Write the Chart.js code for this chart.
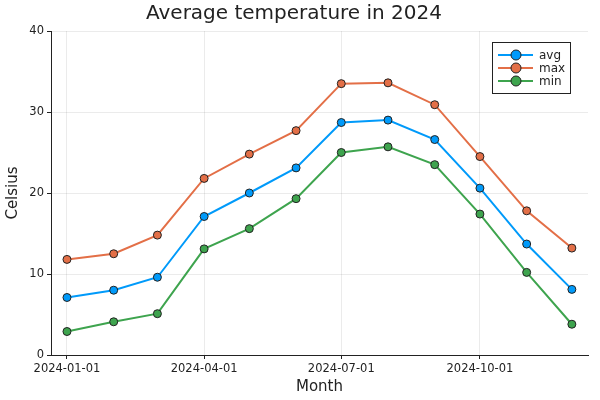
<!DOCTYPE html>
<html>
<head>
<meta charset="utf-8">
<script src="https://cdn.jsdelivr.net/npm/chart.js@4"></script>
<style>
  html, body { margin: 0; padding: 0; background: #fff; }
  #wrap { width: 600px; height: 400px; }
</style>
</head>
<body>
<div id="wrap"><canvas id="chart" width="600" height="400"></canvas></div>
<script>
// Days since 2024-01-01 for the first of each month
const monthDays = [0, 31, 60, 91, 121, 152, 182, 213, 244, 274, 305, 335];

const avgTemp = [7.1, 8.0, 9.6, 17.1, 20.0, 23.1, 28.7, 29.0, 26.6, 20.6, 13.7, 8.1];
const maxTemp = [11.8, 12.5, 14.8, 21.8, 24.8, 27.7, 33.5, 33.6, 30.9, 24.5, 17.8, 13.2];
const minTemp = [2.9, 4.1, 5.1, 13.1, 15.6, 19.3, 25.0, 25.7, 23.5, 17.4, 10.2, 3.8];

const xTickDays = [0, 91, 182, 274];
const xTickLabels = ['2024-01-01', '2024-04-01', '2024-07-01', '2024-10-01'];

const seriesNames = ['avg', 'max', 'min'];
const seriesColors = ['#009AFA', '#E36F47', '#3EA44E'];

const FONT = 'DejaVu Sans';

function toPoints(values) {
  return values.map((v, i) => ({ x: monthDays[i], y: v }));
}

const datasets = [avgTemp, maxTemp, minTemp].map((values, i) => ({
  label: seriesNames[i],
  data: toPoints(values),
  borderColor: seriesColors[i],
  backgroundColor: seriesColors[i],
  borderWidth: 2,
  pointRadius: 4,
  pointBorderColor: '#222',
  pointBorderWidth: 1,
  pointBackgroundColor: seriesColors[i],
  tension: 0
}));

// Legend drawn inside the plot, top right, line + marker like Plots.jl
const insideLegend = {
  id: 'insideLegend',
  afterDraw(chart) {
    const ctx = chart.ctx;
    const area = chart.chartArea;
    const boxW = 78, boxH = 51;
    const x0 = area.right - 18 - boxW;
    const y0 = area.top + 11;
    ctx.save();
    ctx.fillStyle = '#fff';
    ctx.fillRect(x0, y0, boxW, boxH);
    ctx.strokeStyle = '#222';
    ctx.lineWidth = 1;
    ctx.strokeRect(x0 + 0.5, y0 + 0.5, boxW, boxH);
    ctx.font = '12px ' + FONT;
    ctx.textBaseline = 'middle';
    seriesNames.forEach((name, i) => {
      const y = y0 + 13 + i * 13;
      ctx.strokeStyle = seriesColors[i];
      ctx.lineWidth = 2;
      ctx.beginPath();
      ctx.moveTo(x0 + 6, y);
      ctx.lineTo(x0 + 41, y);
      ctx.stroke();
      ctx.beginPath();
      ctx.arc(x0 + 24, y, 5, 0, Math.PI * 2);
      ctx.fillStyle = seriesColors[i];
      ctx.fill();
      ctx.strokeStyle = '#222';
      ctx.lineWidth = 1;
      ctx.stroke();
      ctx.fillStyle = '#222';
      ctx.fillText(name, x0 + 47, y + 1);
    });
    ctx.restore();
  }
};

new Chart(document.getElementById('chart'), {
  type: 'line',
  data: { datasets },
  plugins: [insideLegend],
  options: {
    responsive: false,
    animation: false,
    layout: { padding: { left: 0, right: 12, top: 0, bottom: 0 } },
    plugins: {
      legend: { display: false },
      tooltip: { enabled: false },
      title: {
        display: true,
        text: 'Average temperature in 2024',
        color: '#222',
        font: { family: FONT, size: 20, weight: 'normal' },
        padding: { top: 2, bottom: 5 }
      }
    },
    scales: {
      x: {
        type: 'linear',
        min: -10.6,
        max: 345.7,
        afterBuildTicks: axis => {
          axis.ticks = xTickDays.map(v => ({ value: v }));
        },
        afterFit: axis => { axis.height = 45; },
        ticks: {
          autoSkip: false,
          maxRotation: 0,
          padding: 3,
          color: '#222',
          font: { family: FONT, size: 11.5 },
          callback: (value) => {
            const idx = xTickDays.indexOf(value);
            return idx >= 0 ? xTickLabels[idx] : '';
          }
        },
        grid: {
          color: 'rgba(0,0,0,0.08)',
          tickColor: '#222',
          tickLength: 4,
          drawTicks: true
        },
        border: { color: '#222', width: 1 },
        title: {
          display: true,
          text: 'Month',
          color: '#222',
          font: { family: FONT, size: 15 },
          padding: { top: 2, bottom: 4 }
        }
      },
      y: {
        min: 0,
        max: 40,
        afterFit: axis => { axis.width = 51; },
        ticks: {
          stepSize: 10,
          padding: 3,
          color: '#222',
          font: { family: FONT, size: 11.5 }
        },
        grid: {
          color: 'rgba(0,0,0,0.08)',
          tickColor: '#222',
          tickLength: 4
        },
        border: { color: '#222', width: 1 },
        title: {
          display: true,
          text: 'Celsius',
          color: '#222',
          font: { family: FONT, size: 15 },
          padding: { top: 4, bottom: 0 }
        }
      }
    }
  }
});
</script>
</body>
</html>
